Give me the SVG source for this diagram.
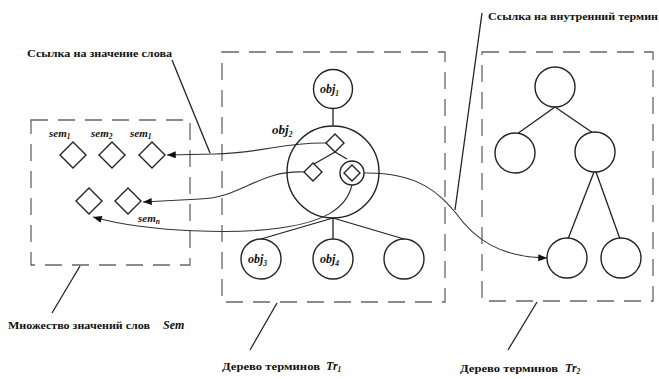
<svg xmlns="http://www.w3.org/2000/svg" width="659" height="379" viewBox="0 0 659 379">
<defs>
<marker id="arr" viewBox="0 0 10 8" refX="10" refY="4" markerWidth="10" markerHeight="7" markerUnits="userSpaceOnUse" orient="auto">
<path d="M0,0 L10,4 L0,8 Z" fill="#111"/>
</marker>
</defs>
<style>
.box{fill:none;stroke:#666;stroke-width:1.3;stroke-dasharray:17 10}
.nd{fill:#fff;stroke:#222;stroke-width:1.4}
.ln{fill:none;stroke:#222;stroke-width:1.3}
.cv{fill:none;stroke:#333;stroke-width:1.1}
text{font-family:"Liberation Serif","DejaVu Serif",serif;fill:#111}
.lbl{font-weight:bold;font-size:11px}
.it{font-style:italic;font-weight:bold;font-size:11px}
.sub{font-size:7.5px}
</style>
<rect width="659" height="379" fill="#fff"/>

<g id="boxes">
<rect class="box" x="31" y="120" width="159" height="145"/>
<rect class="box" x="222" y="52" width="223" height="250"/>
<rect class="box" x="482" y="52" width="171" height="249"/>
</g>

<g id="connectors">
<line class="ln" x1="333" y1="109" x2="333" y2="126"/>
<line class="ln" x1="333" y1="218" x2="261" y2="239"/>
<line class="ln" x1="333" y1="218" x2="333" y2="239"/>
<line class="ln" x1="333" y1="218" x2="404" y2="239"/>
<line class="ln" x1="335" y1="152" x2="314" y2="164"/>
<line class="ln" x1="335" y1="152" x2="347" y2="159"/>
<line class="ln" x1="555" y1="107" x2="517" y2="134"/>
<line class="ln" x1="555" y1="107" x2="593" y2="133"/>
<line class="ln" x1="594" y1="172" x2="568" y2="239"/>
<line class="ln" x1="596" y1="172" x2="620" y2="239"/>
<path class="cv" d="M326,143 C285,142 262,153 215,154 L167,155" marker-end="url(#arr)"/>
<path class="cv" d="M304,172 C258,170 242,198 200,199 L143,202" marker-end="url(#arr)"/>
<path class="cv" d="M352,185 C346,210 322,222 280,228 C240,234 150,233 93,217" marker-end="url(#arr)"/>
<path class="cv" d="M364,173 C420,172 440,195 455,212 C475,240 500,257 547,258" marker-end="url(#arr)"/>
<line class="ln" x1="172" y1="60" x2="210" y2="153"/>
<line class="ln" x1="482" y1="13" x2="455" y2="210"/>
<line class="ln" x1="80" y1="266" x2="52" y2="313"/>
<line class="ln" x1="277" y1="303" x2="250" y2="350"/>
<line class="ln" x1="537" y1="302" x2="508" y2="350"/>
</g>

<g id="sem">
<path class="nd" d="M73,142 L86,155 L73,168 L60,155 Z"/>
<path class="nd" d="M112,142 L125,155 L112,168 L99,155 Z"/>
<path class="nd" d="M152,142 L165,155 L152,168 L139,155 Z"/>
<path class="nd" d="M89,188 L102,201 L89,214 L76,201 Z"/>
<path class="nd" d="M128,188 L141,201 L128,214 L115,201 Z"/>
<text class="it" x="49" y="137" font-size="10">sem<tspan class="sub" dy="2">1</tspan></text>
<text class="it" x="91" y="137" font-size="10">sem<tspan class="sub" dy="2">2</tspan></text>
<text class="it" x="130" y="137" font-size="10">sem<tspan class="sub" dy="2">1</tspan></text>
<text class="it" x="138" y="222" font-size="10">sem<tspan class="sub" dy="2">n</tspan></text>
</g>

<g id="obj1">
<circle class="nd" cx="333" cy="89" r="19.5"/>
<text class="it" x="320" y="93" style="font-size:12px">obj<tspan class="sub" dy="3">1</tspan></text>
</g>
<g id="obj2">
<circle cx="333" cy="172" r="46" fill="none" stroke="#222" stroke-width="1.4"/>
<path class="nd" d="M335,134 L344,143 L335,152 L326,143 Z"/>
<path class="nd" d="M313,163 L322,172 L313,181 L304,172 Z"/>
<circle class="nd" cx="352" cy="173" r="12"/>
<path class="nd" d="M352,165 L360,173 L352,181 L344,173 Z"/>
<text class="it" x="272" y="134" style="font-size:13px">obj<tspan class="sub" dy="3">2</tspan></text>
</g>
<g id="obj3">
<circle class="nd" cx="261" cy="259" r="20"/>
<text class="it" x="248" y="263" style="font-size:12px">obj<tspan class="sub" dy="3">3</tspan></text>
</g>
<g id="obj4">
<circle class="nd" cx="333" cy="259" r="20"/>
<text class="it" x="320" y="263" style="font-size:12px">obj<tspan class="sub" dy="3">4</tspan></text>
</g>
<g id="obj5">
<circle class="nd" cx="404" cy="259" r="20"/>
</g>

<g id="tr2">
<circle class="nd" cx="555" cy="87" r="20"/>
<circle class="nd" cx="515" cy="153" r="20"/>
<circle class="nd" cx="595" cy="152" r="20"/>
<circle class="nd" cx="567" cy="258" r="20"/>
<circle class="nd" cx="621" cy="258" r="20"/>
</g>

<g id="labels">
<text class="lbl" x="27" y="57" textLength="145" lengthAdjust="spacingAndGlyphs">Ссылка на значение слова</text>
<text class="lbl" x="488" y="20" textLength="170" lengthAdjust="spacingAndGlyphs">Ссылка на внутренний термин</text>
<text class="lbl" x="8" y="329" textLength="142" lengthAdjust="spacingAndGlyphs">Множество значений слов</text>
<text class="it" x="163" y="329" style="font-size:12px">Sem</text>
<text class="lbl" x="222" y="370" textLength="98" lengthAdjust="spacingAndGlyphs">Дерево терминов</text>
<text class="it" x="326" y="370" style="font-size:12px">Tr<tspan class="sub" dy="2">1</tspan></text>
<text class="lbl" x="460" y="372" textLength="98" lengthAdjust="spacingAndGlyphs">Дерево терминов</text>
<text class="it" x="565" y="372" style="font-size:12px">Tr<tspan class="sub" dy="2">2</tspan></text>
</g>
</svg>
